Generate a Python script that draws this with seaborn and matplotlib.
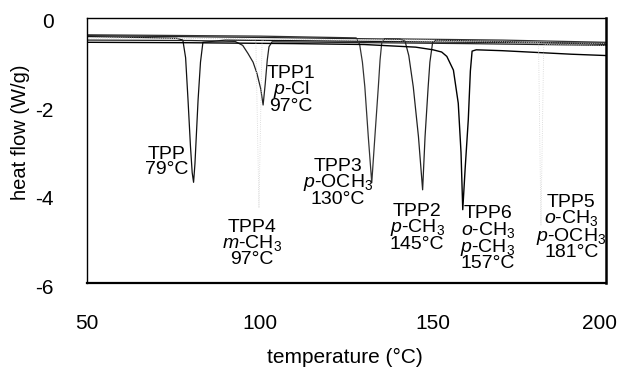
import matplotlib
matplotlib.use("Agg")
import matplotlib.pyplot as plt
import matplotlib.transforms as mtransforms
import seaborn as sns

# ---- data ----
TPP_T = [50, 65, 76, 77.7, 78.5, 79.2, 79.9, 80.4, 80.8, 81.2, 81.7, 82.1, 82.8, 83.5, 90, 120, 160, 200]
TPP_H = [-0.42, -0.44, -0.46, -0.5, -0.9, -1.86, -2.9, -3.5, -3.72, -3.3, -2.5, -1.86, -1.0, -0.55, -0.5, -0.52, -0.55, -0.57]

TPP1_T = [50, 80, 92.8, 95, 96.5, 98, 99.1, 100.2, 100.9, 101.5, 102.1, 102.6, 103.5, 120, 160, 200]
TPP1_H = [-0.5, -0.51, -0.53, -0.62, -0.8, -1.0, -1.25, -1.6, -1.97, -1.5, -0.95, -0.65, -0.54, -0.55, -0.58, -0.62]

TPP3_T = [50, 100, 127.8, 128.8, 129.6, 130.3, 131.3, 132.3, 133.2, 134.2, 134.7, 135.2, 136.0, 170, 200]
TPP3_H = [-0.38, -0.41, -0.45, -0.6, -1.0, -1.56, -2.69, -3.73, -2.69, -1.56, -0.95, -0.55, -0.47, -0.5, -0.55]

TPP2_T = [50, 100, 140.5, 141.9, 143.0, 144.3, 145.8, 147.0, 147.7, 148.6, 149.1, 149.9, 151, 180, 200]
TPP2_H = [-0.4, -0.44, -0.48, -0.52, -0.85, -1.56, -2.69, -3.89, -2.69, -1.56, -1.0, -0.55, -0.5, -0.55, -0.6]

TPP6_T = [50, 80, 110, 130, 145, 150, 152.5, 154, 155.9, 157.3, 158.1, 158.6, 159.3, 160.2, 160.8, 161.3, 162.5, 170, 180, 190, 200]
TPP6_H = [-0.55, -0.56, -0.58, -0.6, -0.66, -0.72, -0.77, -0.87, -1.18, -1.93, -3.05, -4.34, -3.4, -2.3, -1.2, -0.75, -0.72, -0.74, -0.78, -0.82, -0.85]

TPP4_T = [50, 95, 98.8, 99.7, 100.6, 105, 200]
TPP4_H = [-0.45, -0.47, -0.5, -4.3, -0.5, -0.48, -0.58]

TPP5_T = [50, 150, 180.5, 181.2, 182, 200]
TPP5_H = [-0.45, -0.5, -0.55, -4.7, -0.6, -0.62]

labels = [
    "TPP\n79°C",
    "TPP1\n$p$-Cl\n97°C",
    "TPP3\n$p$-OCH$_3$\n130°C",
    "TPP4\n$m$-CH$_3$\n97°C",
    "TPP2\n$p$-CH$_3$\n145°C",
    "TPP6\n$o$-CH$_3$\n$p$-CH$_3$\n157°C",
    "TPP5\n$o$-CH$_3$\n$p$-OCH$_3$\n181°C",
]
label_x = [73.0, 109.0, 122.5, 97.7, 145.4, 165.9, 190.0]
label_y = [-3.26, -1.63, -3.73, -5.1, -4.75, -5.0, -4.75]

# ---- style ----
sns.set_style("white")
plt.rcParams["font.family"] = ["Liberation Sans", "DejaVu Sans"]
plt.rcParams["mathtext.fontset"] = "custom"
plt.rcParams["mathtext.rm"] = "Liberation Sans"
plt.rcParams["mathtext.it"] = "Liberation Sans:italic"
plt.rcParams["text.color"] = "black"
plt.rcParams["axes.labelcolor"] = "black"
plt.rcParams["xtick.color"] = "black"
plt.rcParams["ytick.color"] = "black"

fig = plt.figure(figsize=(6.19, 3.70), dpi=100)
ax = fig.add_axes([87 / 619, 1 - 283 / 370, (606 - 87) / 619, (283 - 18) / 370])

curves = [
    (TPP_T, TPP_H, "#111111", 0.9, "-"),
    (TPP1_T, TPP1_H, "#222222", 0.9, "-"),
    (TPP3_T, TPP3_H, "#333333", 0.9, "-"),
    (TPP2_T, TPP2_H, "#222222", 0.9, "-"),
    (TPP6_T, TPP6_H, "#000000", 1.0, "-"),
    (TPP4_T, TPP4_H, "#d2d2d2", 0.6, ":"),
    (TPP5_T, TPP5_H, "#d2d2d2", 0.6, ":"),
]
for T, H, c, lw, ls in curves:
    sns.lineplot(x=T, y=H, ax=ax, color=c, linewidth=lw, linestyle=ls,
                 sort=False, estimator=None)

for txt, x, y in zip(labels, label_x, label_y):
    ax.text(x, y, txt, ha="center", va="center", multialignment="center",
            fontsize=14, linespacing=0.82, color="black")

ax.set_xlim(50, 200)
ax.set_ylim(-6, 0)
ax.set_xticks([50, 100, 150, 200])
ax.set_yticks([0, -2, -4, -6])
ax.set_yticklabels(["0", "-2", "-4", "-6"])
ax.tick_params(axis="both", direction="in", length=4, width=0.8, labelsize=15,
               colors="black")
ax.tick_params(axis="y", pad=24)
ax.tick_params(axis="x", pad=22)

# small offsets of tick labels as in the reference
for lab in ax.get_yticklabels():
    lab.set_transform(lab.get_transform() + mtransforms.ScaledTranslation(0, -3 / 100, fig.dpi_scale_trans))
xl = ax.get_xticklabels()
xl[-1].set_transform(xl[-1].get_transform() + mtransforms.ScaledTranslation(-7 / 100, 0, fig.dpi_scale_trans))

ax.set_xlabel("temperature (°C)", fontsize=15, color="black")
ax.set_ylabel("heat flow (W/g)", fontsize=14.5, color="black")
ax.xaxis.set_label_coords(0.497, -0.245)
ax.yaxis.set_label_coords(-0.11, 0.57)

for side, lw in (("left", 1.0), ("top", 1.0), ("bottom", 1.6), ("right", 1.8)):
    ax.spines[side].set_visible(True)
    ax.spines[side].set_linewidth(lw)
    ax.spines[side].set_color("black")

fig.savefig("out.png", dpi=100)
